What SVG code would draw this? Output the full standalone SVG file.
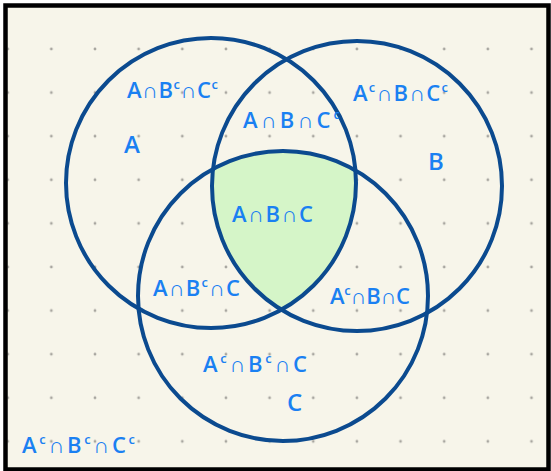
<svg xmlns="http://www.w3.org/2000/svg" width="551" height="471" viewBox="0 0 551 471">
  <style>
    .ring { fill: none; stroke: #0b4a8f; stroke-width: 4; }
    .lbl { font-family: "Open Sans", "Liberation Sans", sans-serif; font-weight: 600; font-size: 22px; fill: #1a80f2; }
    .big { font-size: 24px; }
    .sup { font-size: 13px; }
  </style>
  <defs>
    <pattern id="dots" patternUnits="userSpaceOnUse" x="7.7" y="5.4" width="43.65" height="43.6">
      <circle cx="0" cy="0" r="1.4" fill="#a8a6a0"/>
      <circle cx="43.65" cy="0" r="1.4" fill="#a8a6a0"/>
      <circle cx="0" cy="43.6" r="1.4" fill="#a8a6a0"/>
      <circle cx="43.65" cy="43.6" r="1.4" fill="#a8a6a0"/>
    </pattern>
    <clipPath id="clipA"><circle cx="211" cy="183" r="145"/></clipPath>
    <clipPath id="clipB"><circle cx="357" cy="186" r="145"/></clipPath>
  </defs>

  <rect x="0" y="0" width="551" height="471" fill="#ffffff"/>
  <rect x="5.5" y="5.5" width="543" height="464" fill="#f7f5ea"/>
  <rect x="7.5" y="7.5" width="539" height="460" fill="url(#dots)"/>

  <g id="intersection-fill" clip-path="url(#clipA)">
    <g clip-path="url(#clipB)">
      <circle cx="283" cy="296" r="145" fill="#d5f5c8"/>
    </g>
  </g>

  <g id="set-A">
    <circle class="ring" cx="211" cy="183" r="145"/>
    <text class="lbl big" x="124" y="153">A</text>
  </g>
  <g id="set-B">
    <circle class="ring" cx="357" cy="186" r="145"/>
    <text class="lbl big" x="428" y="170">B</text>
  </g>
  <g id="set-C">
    <circle class="ring" cx="283" cy="296" r="145"/>
    <text class="lbl big" x="287" y="411">C</text>
  </g>

  <g id="region-labels">
    <text class="lbl" x="127" y="98" textLength="91" lengthAdjust="spacing">A∩B<tspan class="sup" dy="-9">c</tspan><tspan dy="9">∩C</tspan><tspan class="sup" dy="-9">c</tspan></text>
    <text class="lbl" x="243" y="128" textLength="97" lengthAdjust="spacing">A∩B∩C<tspan class="sup" dy="-9">c</tspan></text>
    <text class="lbl" x="353" y="101" textLength="95" lengthAdjust="spacing">A<tspan class="sup" dy="-9">c</tspan><tspan dy="9">∩B∩C</tspan><tspan class="sup" dy="-9">c</tspan></text>
    <text class="lbl" x="232" y="222" textLength="81" lengthAdjust="spacing">A∩B∩C</text>
    <text class="lbl" x="153" y="296" textLength="87" lengthAdjust="spacing">A∩B<tspan class="sup" dy="-9">c</tspan><tspan dy="9">∩C</tspan></text>
    <text class="lbl" x="330" y="304" textLength="80" lengthAdjust="spacing">A<tspan class="sup" dy="-9">c</tspan><tspan dy="9">∩B∩C</tspan></text>
    <text class="lbl" x="203" y="372" textLength="104" lengthAdjust="spacing">A<tspan class="sup" dy="-9">c</tspan><tspan dy="9">∩B</tspan><tspan class="sup" dy="-9">c</tspan><tspan dy="9">∩C</tspan></text>
    <text class="lbl" x="22" y="453" textLength="113" lengthAdjust="spacing">A<tspan class="sup" dy="-9">c</tspan><tspan dy="9">∩B</tspan><tspan class="sup" dy="-9">c</tspan><tspan dy="9">∩C</tspan><tspan class="sup" dy="-9">c</tspan></text>
  </g>

  <rect x="5.5" y="5.5" width="543" height="464" fill="none" stroke="#000000" stroke-width="4.5"/>
</svg>
